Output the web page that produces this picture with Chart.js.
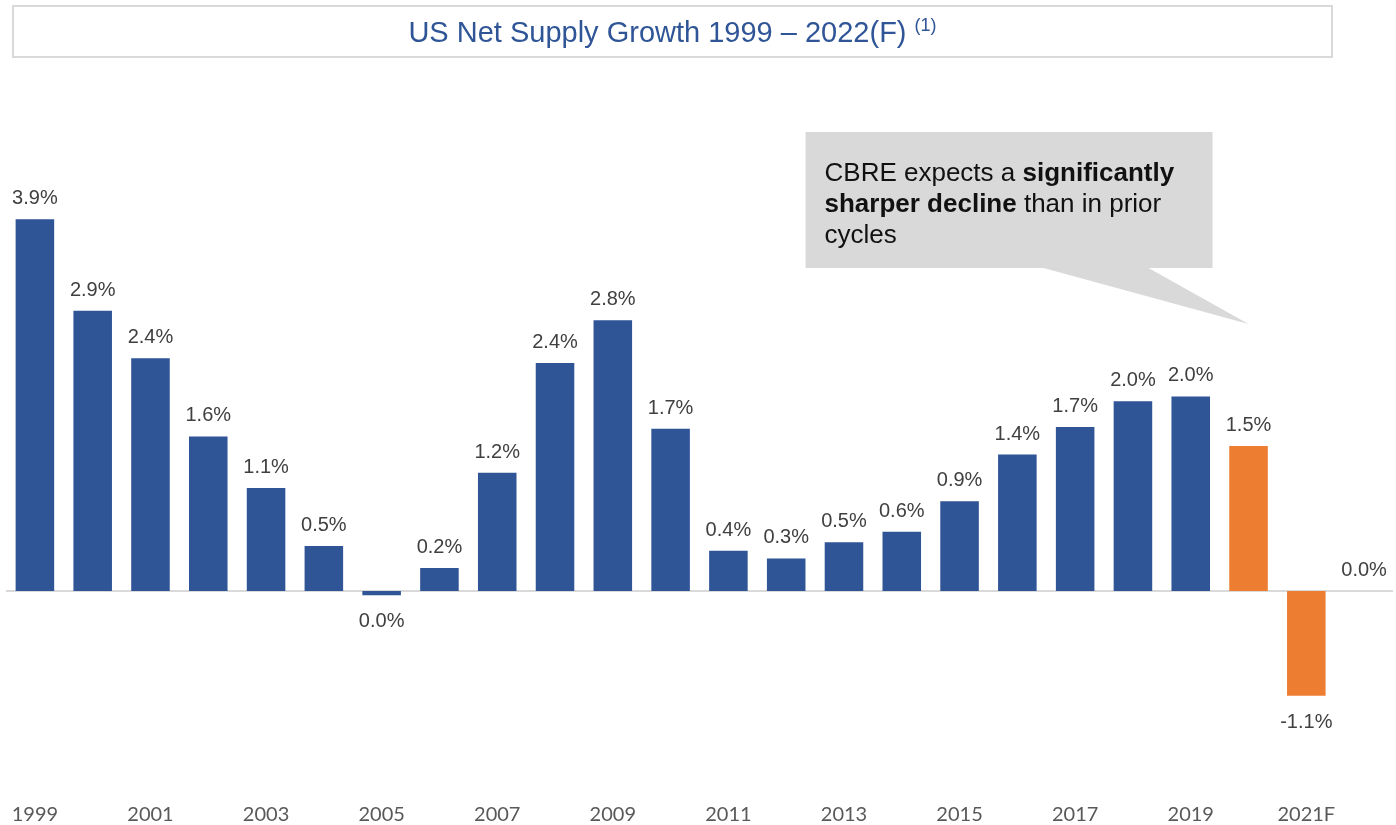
<!DOCTYPE html>
<html>
<head>
<meta charset="utf-8">
<script src="https://cdn.jsdelivr.net/npm/chart.js@4.4.1/dist/chart.umd.min.js"></script>
<style>
  html, body { margin: 0; padding: 0; background: #fff; overflow: hidden; }
  #wrap { position: relative; width: 1396px; height: 825px; overflow: hidden; }
  #title {
    position: absolute; left: 12px; top: 5px; width: 1317px; height: 49px;
    border: 2px solid #d9d9d9; box-sizing: content-box;
    font: 29px "Liberation Sans", Arial, sans-serif; color: #2f5597;
    text-align: center; line-height: 51px;
  }
  #title sup { font-size: 18px; vertical-align: 0; position: relative; top: -11px; }
</style>
</head>
<body>
<div id="wrap">
  <canvas id="supplyChart" width="1396" height="830"></canvas>
  <div id="title">US Net Supply Growth 1999 – 2022(F) <sup>(1)</sup></div>
</div>
<script>
const years = ['1999', '2000', '2001', '2002', '2003', '2004', '2005', '2006', '2007', '2008',
  '2009', '2010', '2011', '2012', '2013', '2014', '2015', '2016', '2017', '2018',
  '2019', '2020', '2021F', '2022F'];
// net supply growth, % per year
const growth = [3.9, 2.94, 2.44, 1.62, 1.08, 0.47, -0.045, 0.24, 1.24, 2.39,
  2.84, 1.7, 0.42, 0.34, 0.51, 0.62, 0.94, 1.43, 1.72, 1.99,
  2.04, 1.52, -1.1, 0.0];
const forecastFrom = 21; // 2020 onwards drawn in orange
const calloutParts = [
  [['CBRE expects a ', false], ['significantly', true]],
  [['sharper decline', true], [' than in prior', false]],
  [['cycles', false]]
];

const BLUE = '#2f5597';
const ORANGE = '#ed7d31';

function fmt(v) {
  let s = v.toFixed(1);
  if (s === '-0.0') s = '0.0';
  return s + '%';
}

const zeroLine = {
  id: 'zeroLine',
  beforeDatasetsDraw(chart) {
    const { ctx, chartArea, scales } = chart;
    const y = scales.y.getPixelForValue(0);
    ctx.save();
    ctx.strokeStyle = '#d9d9d9';
    ctx.lineWidth = 2;
    ctx.beginPath();
    ctx.moveTo(chartArea.left, y);
    ctx.lineTo(chartArea.right, y);
    ctx.stroke();
    ctx.restore();
  }
};

const valueLabels = {
  id: 'valueLabels',
  afterDatasetsDraw(chart) {
    const { ctx } = chart;
    const meta = chart.getDatasetMeta(0);
    ctx.save();
    ctx.font = '20px "Liberation Sans", Arial, sans-serif';
    ctx.fillStyle = '#404040';
    ctx.textAlign = 'center';
    ctx.textBaseline = 'alphabetic';
    meta.data.forEach((bar, i) => {
      const v = growth[i];
      if (v >= 0) {
        ctx.fillText(fmt(v), bar.x, bar.y - 15);
      } else {
        ctx.fillText(fmt(v), bar.x, bar.y + 32);
      }
    });
    ctx.restore();
  }
};

const callout = {
  id: 'callout',
  afterDraw(chart) {
    const { ctx, scales } = chart;
    const tipX = scales.x.getPixelForValue(forecastFrom);
    const tipY = scales.y.getPixelForValue(2.8);
    const left = tipX - 443, right = tipX - 36;
    const top = tipY - 192, bottom = tipY - 56;
    ctx.save();
    ctx.fillStyle = '#d9d9d9';
    ctx.fillRect(left, top, right - left, bottom - top);
    ctx.beginPath();
    ctx.moveTo(tipX - 205, bottom);
    ctx.lineTo(tipX - 100, bottom);
    ctx.lineTo(tipX, tipY);
    ctx.closePath();
    ctx.fill();

    ctx.fillStyle = '#111';
    ctx.textBaseline = 'alphabetic';
    ctx.textAlign = 'left';
    calloutParts.forEach((line, li) => {
      let x = left + 19;
      const y = top + 49 + li * 31;
      line.forEach(([txt, bold]) => {
        ctx.font = (bold ? 'bold ' : '') + '26px "Liberation Sans", Arial, sans-serif';
        ctx.fillText(txt, x, y);
        x += ctx.measureText(txt).width;
      });
    });
    ctx.restore();
  }
};

new Chart(document.getElementById('supplyChart').getContext('2d'), {
  type: 'bar',
  data: {
    labels: years,
    datasets: [{
      data: growth,
      backgroundColor: growth.map((v, i) => i >= forecastFrom ? ORANGE : BLUE),
      barPercentage: 0.667,
      categoryPercentage: 1
    }]
  },
  options: {
    responsive: false,
    animation: false,
    layout: { padding: { top: 162, left: 6, right: 3, bottom: 0 } },
    plugins: { legend: { display: false }, tooltip: { enabled: false } },
    scales: {
      x: {
        grid: { display: false },
        border: { display: false },
        ticks: {
          autoSkip: false,
          maxRotation: 0,
          padding: 3,
          color: '#595959',
          font: { family: 'Lato', size: 20 },
          callback: function (value, index) {
            return index % 2 === 0 ? years[index] : '';
          }
        }
      },
      y: {
        display: false,
        min: -2.11,
        max: 4.5
      }
    }
  },
  plugins: [zeroLine, valueLabels, callout]
});
</script>
</body>
</html>
